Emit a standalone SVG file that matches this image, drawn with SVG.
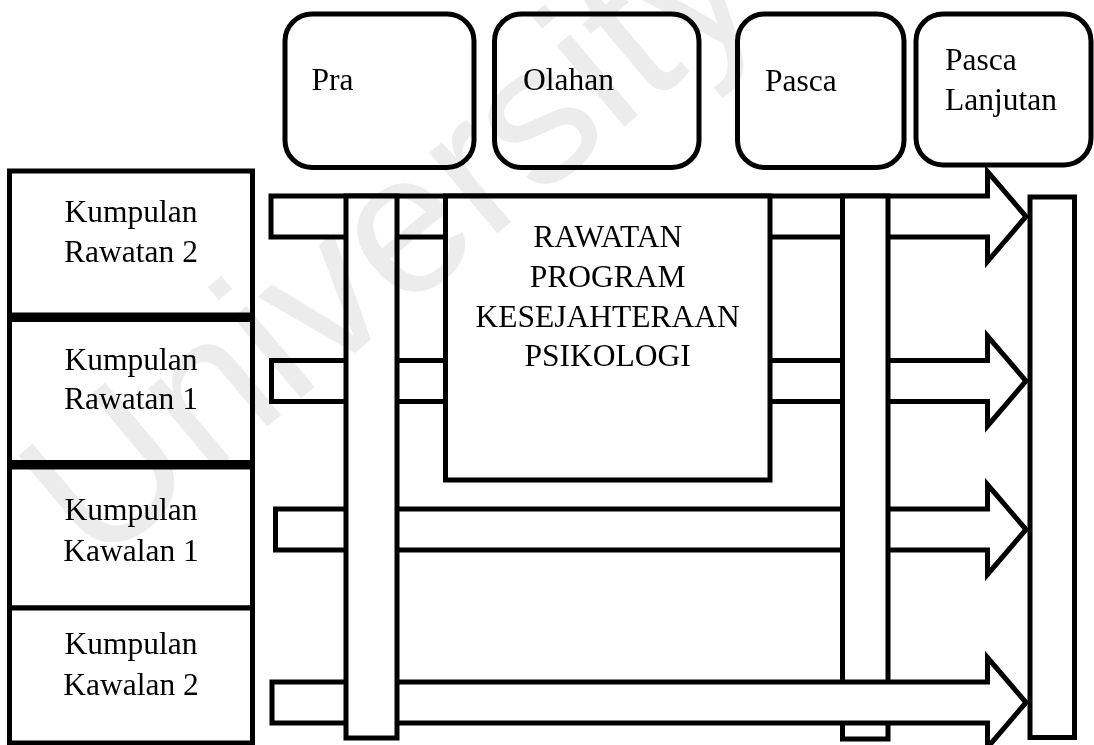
<svg xmlns="http://www.w3.org/2000/svg" width="1094" height="745" viewBox="0 0 1094 745">
  <style>
    .box { fill: #ffffff; stroke: #000000; stroke-width: 5; }
    .phase { fill: #ffffff; stroke: #000000; stroke-width: 5; }
    .arrow { fill: #ffffff; stroke: #000000; stroke-width: 5; stroke-linejoin: miter; stroke-miterlimit: 10; }
    .bar { fill: #ffffff; stroke: #000000; stroke-width: 5; }
    .label { font-family: "Liberation Serif", "Times New Roman", serif; font-size: 31.5px; fill: #000000; }
    .mid { text-anchor: middle; }
    .mark { font-family: "Liberation Sans", Arial, sans-serif; font-size: 200px; fill: #ececec; mix-blend-mode: multiply; }
  </style>
  <rect width="1094" height="745" fill="#ffffff"/>

  <!-- phase headers -->
  <g id="phase-pra">
    <rect class="phase" x="285" y="14" width="189" height="153.5" rx="27" ry="27"/>
    <text class="label" x="311.5" y="90">Pra</text>
  </g>
  <g id="phase-olahan">
    <rect class="phase" x="494.5" y="14" width="204.5" height="153.5" rx="27" ry="27"/>
    <text class="label" x="523" y="90">Olahan</text>
  </g>
  <g id="phase-pasca">
    <rect class="phase" x="737.5" y="14" width="166.5" height="153.5" rx="27" ry="27"/>
    <text class="label" x="765" y="90.5">Pasca</text>
  </g>
  <g id="phase-pasca-lanjutan">
    <rect class="phase" x="916" y="14" width="175" height="151" rx="27" ry="27"/>
    <text class="label" x="945" y="70">Pasca</text>
    <text class="label" x="945" y="110">Lanjutan</text>
  </g>

  <!-- groups on the left -->
  <g id="group-rawatan-2">
    <rect class="box" x="9.5" y="171" width="243" height="144"/>
    <text class="label mid" x="131" y="221.7">Kumpulan</text>
    <text class="label mid" x="131" y="261.7">Rawatan 2</text>
  </g>
  <g id="group-rawatan-1">
    <rect class="box" x="9.5" y="319.5" width="243" height="143"/>
    <text class="label mid" x="131" y="370">Kumpulan</text>
    <text class="label mid" x="131" y="409.3">Rawatan 1</text>
  </g>
  <g id="group-kawalan-1">
    <rect class="box" x="9.5" y="467" width="243" height="141"/>
    <text class="label mid" x="131" y="520">Kumpulan</text>
    <text class="label mid" x="131" y="560.7">Kawalan 1</text>
  </g>
  <g id="group-kawalan-2">
    <rect class="box" x="9.5" y="608" width="243" height="135"/>
    <text class="label mid" x="131" y="654">Kumpulan</text>
    <text class="label mid" x="131" y="695">Kawalan 2</text>
  </g>

  <!-- flow arrows and phase columns, layered back to front -->
  <g id="connectors">
    <polygon id="arrow-rawatan-2" class="arrow" points="271,196 987.5,196 987.5,171.5 1026,216.5 987.5,261.5 987.5,237 271,237"/>
    <polygon id="arrow-rawatan-1" class="arrow" points="271.5,360.5 987.5,360.5 987.5,336 1026,381 987.5,426 987.5,401.5 271.5,401.5"/>
    <polygon id="arrow-kawalan-1" class="arrow" points="275.5,509 987.5,509 987.5,484.5 1026,529.5 987.5,574.5 987.5,550 275.5,550"/>
    <rect id="column-pasca" class="bar" x="842.5" y="196" width="45.5" height="543"/>
    <polygon id="arrow-kawalan-2" class="arrow" points="272,682 987.5,682 987.5,657.5 1026,702.5 987.5,747.5 987.5,723 272,723"/>
  </g>

  <g id="treatment-program">
    <rect class="box" x="445.5" y="196" width="324.5" height="284"/>
    <text class="label mid" x="607.7" y="247">RAWATAN</text>
    <text class="label mid" x="607.7" y="287">PROGRAM</text>
    <text class="label mid" x="607.7" y="326.7">KESEJAHTERAAN</text>
    <text class="label mid" x="607.7" y="366">PSIKOLOGI</text>
  </g>

  <g id="column-pra">
    <rect class="bar" x="346" y="196" width="51" height="542"/>
  </g>
  <g id="column-pasca-lanjutan">
    <rect class="bar" x="1030" y="197" width="44.5" height="540.5"/>
  </g>

  <!-- faint diagonal watermark -->
  <text class="mark" x="95" y="571" transform="rotate(-40 95 571)">University</text>
</svg>
